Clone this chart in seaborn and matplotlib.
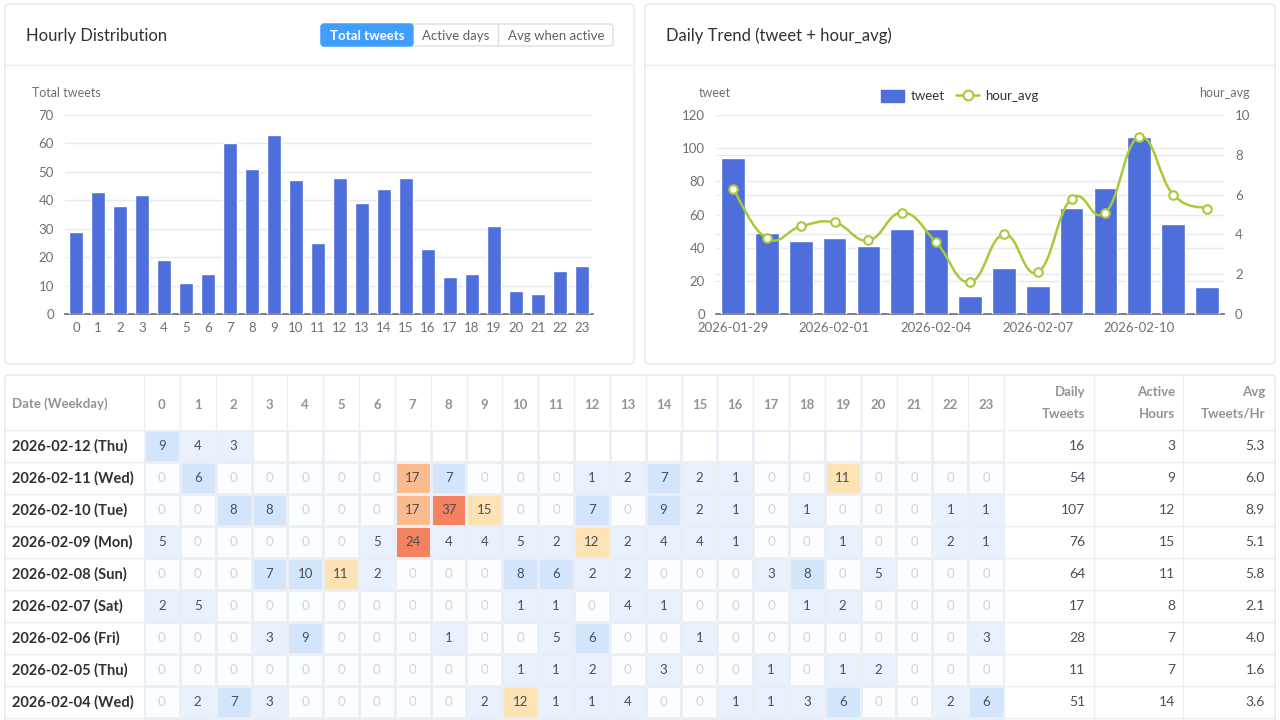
import numpy as np
import pandas as pd
import seaborn as sns
import matplotlib.pyplot as plt
from matplotlib.patches import FancyBboxPatch, Patch, PathPatch
from matplotlib.lines import Line2D
from matplotlib.path import Path
from matplotlib.colors import ListedColormap, BoundaryNorm

# --- data ---
hours = list(range(24))
hourly_total = [29, 43, 38, 42, 19, 11, 14, 60, 51, 63, 47, 25,
                48, 39, 44, 48, 23, 13, 14, 31, 8, 7, 15, 17]

trend_dates = ['2026-01-29', '2026-01-30', '2026-01-31', '2026-02-01', '2026-02-02',
               '2026-02-03', '2026-02-04', '2026-02-05', '2026-02-06', '2026-02-07',
               '2026-02-08', '2026-02-09', '2026-02-10', '2026-02-11', '2026-02-12']
trend_tweet = [94, 49, 44, 46, 41, 51, 51, 11, 28, 17, 64, 76, 107, 54, 16]
trend_hour_avg = [6.3, 3.8, 4.4, 4.6, 3.7, 5.1, 3.6, 1.6, 4.0, 2.1, 5.8, 5.1, 8.9, 6.0, 5.3]

nan = np.nan
row_labels = ['2026-02-12 (Thu)', '2026-02-11 (Wed)', '2026-02-10 (Tue)', '2026-02-09 (Mon)',
              '2026-02-08 (Sun)', '2026-02-07 (Sat)', '2026-02-06 (Fri)', '2026-02-05 (Thu)',
              '2026-02-04 (Wed)', '2026-02-03 (Tue)']
grid_counts = [
    [9, 4, 3] + [nan] * 21,
    [0, 6, 0, 0, 0, 0, 0, 17, 7, 0, 0, 0, 1, 2, 7, 2, 1, 0, 0, 11, 0, 0, 0, 0],
    [0, 0, 8, 8, 0, 0, 0, 17, 37, 15, 0, 0, 7, 0, 9, 2, 1, 0, 1, 0, 0, 0, 1, 1],
    [5, 0, 0, 0, 0, 0, 5, 24, 4, 4, 5, 2, 12, 2, 4, 4, 1, 0, 0, 1, 0, 0, 2, 1],
    [0, 0, 0, 7, 10, 11, 2, 0, 0, 0, 8, 6, 2, 2, 0, 0, 0, 3, 8, 0, 5, 0, 0, 0],
    [2, 5, 0, 0, 0, 0, 0, 0, 0, 0, 1, 1, 0, 4, 1, 0, 0, 0, 1, 2, 0, 0, 0, 0],
    [0, 0, 0, 3, 9, 0, 0, 0, 1, 0, 0, 5, 6, 0, 0, 1, 0, 0, 0, 0, 0, 0, 0, 3],
    [0, 0, 0, 0, 0, 0, 0, 0, 0, 0, 1, 1, 2, 0, 3, 0, 0, 1, 0, 1, 2, 0, 0, 0],
    [0, 2, 7, 3, 0, 0, 0, 0, 0, 2, 12, 1, 1, 4, 0, 0, 1, 1, 3, 6, 0, 0, 2, 6],
    [2, 1, 0, 0, 0, 0, 0, 0, 0, 0, 0, 6, 3, 5, 7, 12, 0, 0, 0, 0, 0, 2, 5, 8],
]
daily_tweets = [16, 54, 107, 76, 64, 17, 28, 11, 51, 51]
active_hours = [3, 9, 12, 15, 11, 8, 7, 7, 14, 10]
avg_per_hour = ['5.3', '6.0', '8.9', '5.1', '5.8', '2.1', '4.0', '1.6', '3.6', '5.1']
shown_rows = 9  # the last row only peeks in at the bottom edge

# --- style ---
sns.set_theme(style='white')
plt.rcParams['font.family'] = ['Lato', 'DejaVu Sans']

BAR = '#4e6edb'
GREEN = '#a8c93a'
AXIS = '#6e7079'
GRID = '#e6e9f0'
BORDER = '#e4e7ed'
TITLE = '#303133'
HEAD = '#909399'
CELL_TXT = '#4a4f58'

W, H = 1280, 720
fig = plt.figure(figsize=(12.8, 7.2), dpi=100)
fig.patch.set_facecolor('white')


def px(x0, y0, x1, y1):
    return [x0 / W, 1 - y1 / H, (x1 - x0) / W, (y1 - y0) / H]


bg = fig.add_axes([0, 0, 1, 1])
bg.set_xlim(0, W)
bg.set_ylim(H, 0)
bg.axis('off')

# panels
for x0, x1, title in [(5, 634, 'Hourly Distribution'), (645, 1275, 'Daily Trend (tweet + hour_avg)')]:
    bg.add_patch(FancyBboxPatch((x0, 4), x1 - x0, 360, boxstyle='round,pad=0,rounding_size=4',
                                fc='white', ec=BORDER, lw=1))
    bg.plot([x0, x1], [65, 65], color='#ebeef5', lw=1)
    bg.text(x0 + 21, 36, title, fontsize=12, color=TITLE, va='center')

# toggle buttons
bg.add_patch(FancyBboxPatch((321, 24), 292, 22, boxstyle='round,pad=0,rounding_size=3',
                            fc='white', ec='#dcdfe6', lw=1))
bg.add_patch(FancyBboxPatch((321, 24), 92, 22, boxstyle='round,pad=0,rounding_size=3',
                            fc='#409eff', ec='#409eff', lw=1))
bg.plot([498, 498], [24, 46], color='#dcdfe6', lw=1)
bg.text(367, 35.5, 'Total tweets', fontsize=9.5, color='white', ha='center', va='center', fontweight='bold')
bg.text(456, 35.5, 'Active days', fontsize=9.5, color='#606266', ha='center', va='center')
bg.text(556, 35.5, 'Avg when active', fontsize=9.5, color='#606266', ha='center', va='center')

# --- hourly distribution ---
ax1 = fig.add_axes(px(65, 115, 593, 314))
sns.barplot(x=hours, y=hourly_total, color=BAR, saturation=1, width=0.68, ax=ax1, zorder=3)
ax1.set_xlim(-0.5, 23.5)
ax1.set_ylim(0, 70)
ax1.set_yticks(range(0, 71, 10))
ax1.yaxis.grid(True, color=GRID, lw=1)
ax1.set_axisbelow(True)
for s in ['top', 'right', 'left']:
    ax1.spines[s].set_visible(False)
ax1.spines['bottom'].set_color(AXIS)
ax1.tick_params(length=0, labelsize=9.5, labelcolor=AXIS)
ax1.tick_params(axis='x', pad=6)
ax1.tick_params(axis='y', pad=8)
ax1.set_xlabel('')
ax1.set_ylabel('')
bg.text(32, 93, 'Total tweets', fontsize=9, color=AXIS, va='center')

# --- daily trend ---
ax2 = fig.add_axes(px(716, 115, 1224, 314))
sns.barplot(x=trend_dates, y=trend_tweet, color=BAR, saturation=1, width=0.7, ax=ax2, zorder=3)
left_max, right_max = 120, 10
ax2.set_ylim(0, left_max)
ax2.set_yticks(range(0, left_max + 1, 20))
right_ticks = list(range(0, right_max + 1, 2))
# grid for the right axis drawn behind the bars on the left axis
ax2.set_yticks([t * left_max / right_max for t in right_ticks], minor=True)
ax2.yaxis.grid(True, which='both', color=GRID, lw=1)
ax2.set_axisbelow(True)
axr = ax2.twinx()
axr.set_ylim(0, right_max)
axr.set_yticks(right_ticks)
axr.grid(False)

xs = np.arange(len(trend_dates))
pts = np.column_stack([xs, trend_hour_avg])
verts, codes = [pts[0]], [Path.MOVETO]
k = 0.22
for i in range(len(pts) - 1):
    p0, p1 = pts[max(i - 1, 0)], pts[i]
    p2, p3 = pts[i + 1], pts[min(i + 2, len(pts) - 1)]
    verts += [p1 + (p2 - p0) * k, p2 - (p3 - p1) * k, p2]
    codes += [Path.CURVE4] * 3
axr.add_patch(PathPatch(Path(verts, codes), fc='none', ec=GREEN, lw=1.8, zorder=4))
sns.scatterplot(x=xs, y=trend_hour_avg, ax=axr, s=38, color='white', edgecolor=GREEN,
                linewidth=1.5, zorder=5)

for a in (ax2, axr):
    for s in ['top', 'right', 'left']:
        a.spines[s].set_visible(False)
    a.tick_params(which='both', length=0, labelsize=9.5, labelcolor=AXIS)
    a.set_xlabel('')
    a.set_ylabel('')
axr.spines['bottom'].set_visible(False)
ax2.spines['bottom'].set_color(AXIS)
ax2.set_xlim(-0.5, len(trend_dates) - 0.5)
ax2.set_xticks(xs[::3])
ax2.set_xticklabels(trend_dates[::3])
ax2.tick_params(axis='x', pad=6)
ax2.tick_params(axis='y', pad=8)
axr.tick_params(axis='y', pad=8)

bg.text(715, 93, 'tweet', fontsize=9, color=AXIS, ha='center', va='center')
bg.text(1224, 93, 'hour_avg', fontsize=9, color=AXIS, ha='center', va='center')
handles = [Patch(fc=BAR, ec=BAR),
           Line2D([0], [0], color=GREEN, lw=1.8, marker='o', markersize=7,
                  markerfacecolor='white', markeredgecolor=GREEN, markeredgewidth=1.5)]
fig.legend(handles, ['tweet', 'hour_avg'], loc='center', bbox_to_anchor=(960 / W, 1 - 96 / H),
           ncol=2, frameon=False, fontsize=9.5, handlelength=1.7, handleheight=1.0,
           columnspacing=0.9, handletextpad=0.5, labelcolor='#333333')

# --- table ---
top, rh = 430, 32
n = len(row_labels)
x_hour0, x_hour1 = 144, 1004
col_w = (x_hour1 - x_hour0) / 24
bg.add_patch(FancyBboxPatch((5, 375), 1270, 360, boxstyle='round,pad=0,rounding_size=4',
                            fc='white', ec=BORDER, lw=1))
for i in range(n + 1):
    bg.plot([5, 1275], [top + rh * i, top + rh * i], color='#ebeef5', lw=1)
for xv in [x_hour0 + col_w * j for j in range(25)] + [1094, 1183]:
    bg.plot([xv, xv], [375, 720], color='#ebeef5', lw=1)

df = pd.DataFrame(grid_counts, index=row_labels, columns=hours)
annot = df.map(lambda v: '' if pd.isna(v) else str(int(v)))
annot.iloc[shown_rows:] = ''
cmap = ListedColormap(['#fcfdff', '#e8f1fd', '#d3e5fb', '#fde2b4', '#fbbb8c', '#f4825f'])
norm = BoundaryNorm([-0.5, 0.5, 5.5, 10.5, 15.5, 20.5, 1000], cmap.N)

hm = fig.add_axes(px(x_hour0, top, x_hour1, top + rh * n))
sns.heatmap(df, ax=hm, cmap=cmap, norm=norm, cbar=False, mask=df.isna(),
            annot=annot.values, fmt='', annot_kws={'fontsize': 9.5},
            linewidths=0.8, linecolor='#ebeef5')
hm.patch.set_alpha(0)
for t in hm.texts:
    t.set_color('#cfd3d9' if t.get_text() == '0' else CELL_TXT)
hm.xaxis.tick_top()
hm.set_xticklabels([str(h) for h in hours], rotation=0, fontsize=9.5, color=HEAD, fontweight='bold')
hm.set_yticklabels(row_labels[:shown_rows] + [''] * (n - shown_rows), rotation=0, ha='left',
                   fontsize=10.5, color=TITLE, fontweight='bold')
hm.tick_params(axis='x', length=0, pad=14)
hm.tick_params(axis='y', length=0, pad=95)
hm.set_xlabel('')
hm.set_ylabel('')

bg.text(12, 404, 'Date (Weekday)', fontsize=9.5, color=HEAD, fontweight='bold', va='center')
for xr, l1, l2 in [(1085, 'Daily', 'Tweets'), (1175, 'Active', 'Hours'), (1265, 'Avg', 'Tweets/Hr')]:
    bg.text(xr, 392, l1, fontsize=9.5, color=HEAD, fontweight='bold', ha='right', va='center')
    bg.text(xr, 414, l2, fontsize=9.5, color=HEAD, fontweight='bold', ha='right', va='center')
for i in range(shown_rows):
    y = top + rh * i + rh / 2
    bg.text(1085, y, str(daily_tweets[i]), fontsize=10, color=CELL_TXT, ha='right', va='center')
    bg.text(1175, y, str(active_hours[i]), fontsize=10, color=CELL_TXT, ha='right', va='center')
    bg.text(1265, y, avg_per_hour[i], fontsize=10, color=CELL_TXT, ha='right', va='center')

fig.savefig('out.png', dpi=100)
